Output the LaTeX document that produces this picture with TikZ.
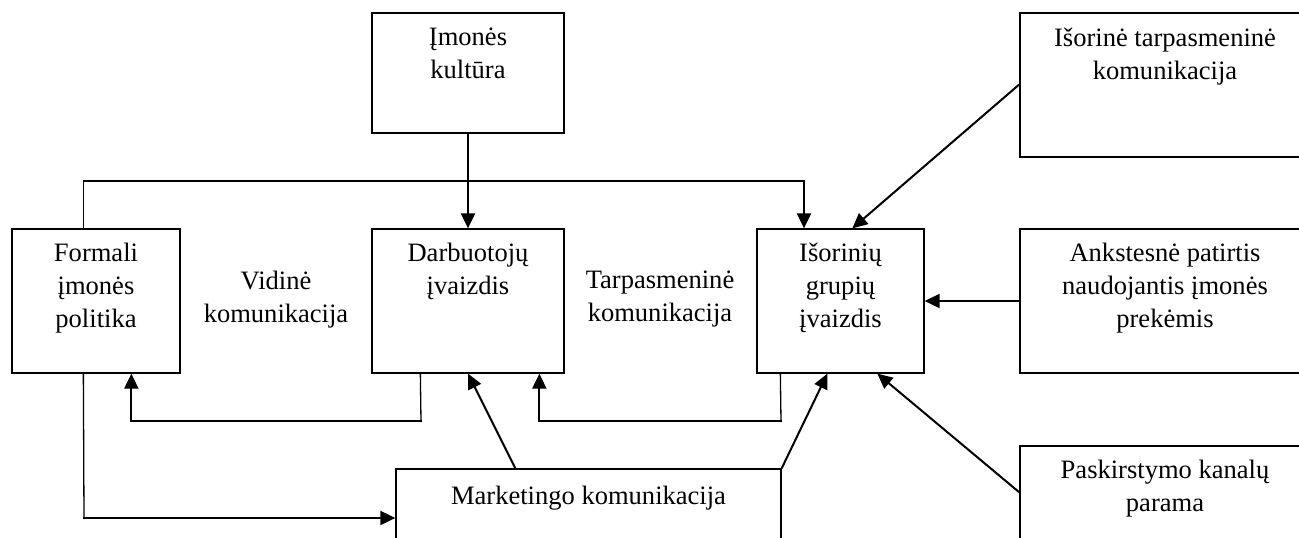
\documentclass[tikz,border=0pt]{standalone}
\usepackage{fontspec}
\setmainfont{Liberation Serif}
\usetikzlibrary{arrows.meta,fit,calc}
\begin{document}
\begin{tikzpicture}[x=0.5pt,y=-0.5pt,
  box/.style={draw, line width=0.65pt, inner sep=0pt},
  txt/.style={align=center, inner sep=0pt, anchor=north, font=\fontsize{13.27}{16.5}\selectfont},
  thinln/.style={line width=0.65pt},
  arr/.style={line width=1pt, -{Triangle[length=7.5pt,width=7pt]}}]
\useasboundingbox (0,0) rectangle (1299,537);
\clip (0,0) rectangle (1299,537);
% boxes
\node[box, fit={(12,229) (180,373)}] (formali) {};
\node[box, fit={(372,13) (564,133)}] (kultura) {};
\node[box, fit={(372,229) (564,373)}] (darb) {};
\node[box, fit={(757,229) (924,373)}] (isor) {};
\node[box, fit={(1020,13) (1310,157)}] (isorine) {};
\node[box, fit={(1020,229) (1310,373)}] (ank) {};
\node[box, fit={(1020,446) (1310,600)}] (pask) {};
\node[box, fit={(396,469) (781,600)}] (mark) {};
% texts
\node[txt] (formaliT) at ($(formali.north)+(0,14)$) {Formali\\įmonės\\politika};
\node[txt] (kulturaT) at ($(kultura.north)+(0,15)$) {Įmonės\\kultūra};
\node[txt] (darbT) at ($(darb.north)+(0,14)$) {Darbuotojų\\įvaizdis};
\node[txt] (isorT) at ($(isor.north)+(0,14)$) {Išorinių\\grupių\\įvaizdis};
\node[txt] (isorineT) at ($(isorine.north)+(0,15)$) {Išorinė tarpasmeninė\\komunikacija};
\node[txt] (ankT) at ($(ank.north)+(0,14)$) {Ankstesnė patirtis\\naudojantis įmonės\\prekėmis};
\node[txt] (paskT) at ($(pask.north)+(0,14)$) {Paskirstymo kanalų\\parama};
\node[txt] (markT) at ($(mark.north)+(0,17)$) {Marketingo komunikacija};
\node[txt] (vidine) at (276,271) {Vidinė\\komunikacija};
\node[txt] (tarp) at (660,271) {Tarpasmeninė\\komunikacija};
% connectors
\draw[arr] (kultura.south) -- (darb.north);
\coordinate (c2) at (804,181);
\draw[thinln] ($(formali.north west)+(72,0)$) |- (c2);
\draw[arr] ($(c2)+(0,-1)$) -- (c2 |- isor.north);
\draw[arr] ($(isorine.north west)+(0,72)$) -- ($(isor.north west)+(96,0)$);
\draw[arr] (ank.west) -- (isor.east);
\draw[arr] ($(pask.north west)+(0,47)$) -- ($(isor.south west)+(121,0)$);
\draw[arr] (mark.north east) -- ($(isor.south west)+(71,0)$);
\draw[arr] ($(mark.north west)+(120,0)$) -- (darb.south);
\coordinate (c3) at (781,421);
\draw[thinln] ($(isor.south west)+(24,0)$) -- ($(c3)+(0,1)$);
\draw[arr] ($(c3)+(0.7,0)$) -| ($(darb.south west)+(168,0)$);
\coordinate (c4) at (421,421);
\draw[thinln] ($(darb.south west)+(49,0)$) -- ($(c4)+(0,1)$);
\draw[arr] ($(c4)+(0.7,0)$) -| ($(formali.south west)+(120,0)$);
\coordinate (c5) at (84,518);
\draw[thinln] ($(formali.south west)+(72,0)$) -- ($(c5)+(0,1)$);
\draw[arr] ($(c5)+(-0.7,0)$) -- (c5 -| mark.west);
\end{tikzpicture}
\end{document}
